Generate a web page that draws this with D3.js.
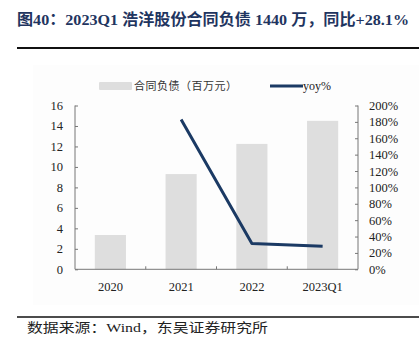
<!DOCTYPE html>
<html><head><meta charset="utf-8">
<script src="https://cdn.jsdelivr.net/npm/d3@7"></script>
<style>body{margin:0;background:#fff}svg{display:block}</style>
</head><body>
<script>
const categories = ["2020", "2021", "2022", "2023Q1"];
const contractLiabilities = [3.35, 9.3, 12.25, 14.5];
const yoy = [null, 183, 31.4, 28.1];
const leftTicks = [0, 2, 4, 6, 8, 10, 12, 14, 16];
const rightTicks = [0, 20, 40, 60, 80, 100, 120, 140, 160, 180, 200];
const titleText = "图40：2023Q1 浩洋股份合同负债 1440 万，同比+28.1%";
const sourceText = "数据来源：Wind，东吴证券研究所";
const barLabel = "合同负债（百万元）";
const lineLabel = "yoy%";

const W = 419, H = 356;
const svg = d3.select("body").append("svg").attr("width", W).attr("height", H);
const serif = "'Liberation Serif','Times New Roman','Noto Sans CJK SC',serif";

svg.append("rect").attr("x", 33).attr("y", 65).attr("width", 386).attr("height", 240).attr("fill", "#fdfdfd");

svg.append("text").attr("x", 17).attr("y", 25).attr("font-family", serif).attr("font-weight", "bold")
  .attr("font-size", 15.5).attr("fill", "#1f3560").attr("textLength", 392).attr("lengthAdjust", "spacingAndGlyphs").text(titleText);
svg.append("line").attr("x1", 17).attr("x2", 419).attr("y1", 48).attr("y2", 48).attr("stroke", "#111").attr("stroke-width", 2);
svg.append("line").attr("x1", 17).attr("x2", 419).attr("y1", 317).attr("y2", 317).attr("stroke", "#111").attr("stroke-width", 1.5);
svg.append("text").attr("x", 27).attr("y", 332).attr("font-family", serif).attr("font-size", 13)
  .attr("fill", "#222").attr("textLength", 241).attr("lengthAdjust", "spacingAndGlyphs").text(sourceText);

const x0 = 75, x1 = 358, yTop = 105.5, yBot = 269.3;
const x = d3.scaleBand().domain(categories).range([x0, x1]).paddingInner(0.56).paddingOuter(0.28);
const xb = d3.scaleBand().domain(categories).range([x0, x1]);
const yL = d3.scaleLinear().domain([0, 16]).range([yBot, yTop]);
const yR = d3.scaleLinear().domain([0, 200]).range([yBot, yTop]);

svg.append("g").selectAll("rect").data(categories).join("rect")
  .attr("x", d => x(d)).attr("width", x.bandwidth())
  .attr("y", (d, i) => yL(contractLiabilities[i])).attr("height", (d, i) => yBot - yL(contractLiabilities[i]))
  .attr("fill", "#dedede");

const axisColor = "#777";
const gL = svg.append("g").attr("transform", `translate(${x0},0)`)
  .call(d3.axisLeft(yL).tickValues(leftTicks).tickSize(-3).tickPadding(12));
const gR = svg.append("g").attr("transform", `translate(${x1},0)`)
  .call(d3.axisRight(yR).tickValues(rightTicks).tickSize(-3).tickPadding(11).tickFormat(d => d + "%"));
const gX = svg.append("g").attr("transform", `translate(0,${yBot})`)
  .call(d3.axisBottom(xb).tickSize(0).tickPadding(13));
// inner boundary ticks
svg.append("g").selectAll("line").data(categories.slice(1)).join("line")
  .attr("x1", d => xb(d)).attr("x2", d => xb(d)).attr("y1", yBot).attr("y2", yBot - 3)
  .attr("stroke", axisColor);
[gL, gR, gX].forEach(g => {
  g.selectAll("path.domain").attr("stroke", axisColor);
  g.selectAll(".tick line").attr("stroke", axisColor);
  g.selectAll("text").attr("font-family", serif).attr("font-size", 12.5).attr("fill", "#222");
});
gL.select("path.domain").attr("d", `M0,${yTop}V${yBot}`);
gR.select("path.domain").attr("d", `M0,${yTop}V${yBot}`);
gX.select("path.domain").attr("d", `M${x0},0H${x1}`);
gX.selectAll("text").attr("dy", "0.71em");

const pts = categories.map((c, i) => [xb(c) + xb.bandwidth() / 2, yoy[i]]).filter(p => p[1] !== null);
svg.append("path").datum(pts)
  .attr("d", d3.line().x(p => p[0]).y(p => yR(p[1])))
  .attr("fill", "none").attr("stroke", "#1b3a64").attr("stroke-width", 3).attr("stroke-linejoin", "round");

// legend
svg.append("rect").attr("x", 99).attr("y", 82).attr("width", 33).attr("height", 8).attr("fill", "#dedede").attr("rx", 1);
svg.append("text").attr("x", 134).attr("y", 90).attr("font-family", serif).attr("font-size", 11)
  .attr("fill", "#333").attr("textLength", 103).attr("lengthAdjust", "spacing").text(barLabel);
svg.append("line").attr("x1", 270).attr("x2", 303).attr("y1", 86).attr("y2", 86).attr("stroke", "#1b3a64").attr("stroke-width", 3);
svg.append("text").attr("x", 303).attr("y", 90).attr("font-family", serif).attr("font-size", 12)
  .attr("fill", "#222").text(lineLabel);
</script>
</body></html>
